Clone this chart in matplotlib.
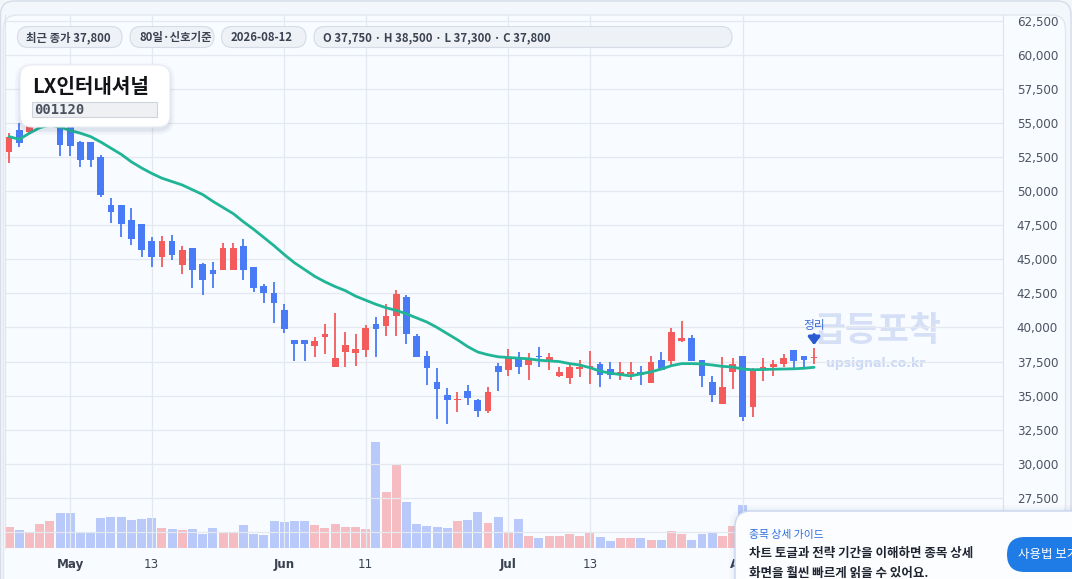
import matplotlib
matplotlib.use('Agg')
import matplotlib.pyplot as plt
from matplotlib.patches import FancyBboxPatch
from matplotlib.ticker import FuncFormatter
import numpy as np
import pandas as pd

KR = ['Noto Sans CJK KR', 'DejaVu Sans']

# ---------------- data ----------------
dates = pd.bdate_range('2026-04-23', '2026-08-12')  # 80 trading days

opens = [52900, 54500, 54350, 54850, 55500, 55600, 54900, 53600, 53600, 52500,
         49000, 49000, 47900, 47600, 46350, 45200, 46350, 44550, 45800, 44650,
         44200, 44250, 44250, 46000, 44450, 43050, 42550, 41300, 39100, 39100,
         38650, 39300, 37100, 38200, 38150, 38350, 40250, 40100, 40850, 42250,
         39400, 37900, 36000, 35050, 34650, 35350, 34700, 33900, 37200, 36900,
         37750, 37250, 37900, 37600, 36450, 36300, 36950, 37050, 37300, 36950,
         36600, 36600, 36700, 35950, 37600, 37550, 39000, 39250, 37600, 36000,
         34400, 36700, 37900, 34200, 36900, 37100, 37300, 38350, 37900, 37750]
highs = [54250, 55000, 55200, 55800, 56600, 56000, 55200, 53650, 53600, 52650,
         49500, 49000, 48750, 47600, 46650, 46700, 46800, 46000, 45850, 44750,
         44800, 46200, 46200, 46500, 44450, 43200, 43350, 41700, 39100, 39100,
         39300, 40250, 41050, 39650, 39500, 40200, 40750, 41700, 42750, 42400,
         39500, 38300, 37050, 35550, 35250, 35800, 34750, 35650, 37400, 38400,
         38200, 38150, 38550, 38150, 37100, 37300, 37600, 38300, 37500, 37450,
         37450, 37450, 37150, 37900, 38200, 39950, 40450, 39450, 37600, 36450,
         37800, 37750, 37900, 37050, 37750, 37650, 38050, 38350, 37900, 38500]
lows = [52050, 53250, 54200, 54600, 55200, 52550, 52550, 51800, 51800, 49600,
        47700, 46600, 46050, 45200, 44400, 44400, 44950, 43900, 42900, 42400,
        42900, 44250, 44250, 43450, 42600, 41800, 40300, 39600, 37550, 37550,
        37800, 38050, 37100, 37100, 37200, 37800, 37850, 39400, 39400, 38800,
        37850, 35800, 33300, 32950, 33800, 34300, 33450, 33700, 35350, 36450,
        36600, 36150, 37100, 36900, 36400, 35850, 36400, 35850, 35650, 36200,
        36150, 36150, 35800, 35950, 36900, 37250, 38950, 37550, 35650, 34550,
        34400, 35500, 33150, 33450, 36050, 36450, 37100, 36900, 37100, 37300]
closes = [53950, 53550, 54850, 55500, 56200, 53350, 53300, 52250, 52250, 49700,
          48500, 47600, 46500, 45650, 45200, 46350, 45350, 45700, 44250, 43450,
          43900, 45850, 45850, 44250, 42900, 42550, 41800, 39900, 38800, 38800,
          39000, 39500, 37750, 38700, 38400, 39950, 39900, 40850, 42450, 39500,
          37850, 37050, 35500, 34700, 34750, 34850, 33900, 35250, 36700, 37800,
          37100, 37750, 37800, 37800, 36700, 37100, 37100, 37150, 36500, 36500,
          36750, 36750, 36500, 37450, 36900, 39650, 39250, 37550, 36450, 35050,
          35650, 37300, 33450, 36950, 37100, 37300, 37750, 37550, 37600, 37800]
ma_line = [54000, 53800, 54250, 54650, 54850, 54700, 54450, 54250, 54000, 53600,
           53150, 52700, 52150, 51700, 51300, 50950, 50700, 50450, 50100, 49750,
           49250, 48800, 48350, 47750, 47200, 46600, 46000, 45350, 44750, 44250,
           43750, 43350, 43000, 42700, 42300, 42000, 41700, 41450, 41250, 41000,
           40700, 40400, 40000, 39550, 39100, 38600, 38200, 38000, 37850, 37800,
           37750, 37700, 37600, 37550, 37500, 37350, 37250, 37050, 36800, 36650,
           36550, 36450, 36600, 36750, 36950, 37200, 37350, 37350, 37330, 37250,
           37150, 37100, 36950, 36900, 36920, 36940, 36955, 36970, 37010, 37080]
volume = [210, 180, 150, 240, 270, 350, 350, 160, 160, 300,
          310, 310, 280, 290, 300, 200, 190, 180, 190, 140,
          200, 160, 160, 230, 140, 130, 270, 260, 270, 270,
          230, 200, 240, 210, 210, 190, 1060, 560, 840, 460,
          240, 220, 210, 200, 270, 280, 360, 250, 310, 160,
          290, 120, 100, 120, 120, 140, 120, 160, 110, 70,
          100, 100, 100, 80, 80, 170, 140, 80, 140, 150,
          120, 220, 430, 150, 120, 110, 130, 120, 110, 130]  # thousand shares

price_ticks = list(range(25000, 65001, 2500))
tick_dates = ['2026-05-01', '2026-05-13', '2026-06-01', '2026-06-11',
              '2026-07-01', '2026-07-13', '2026-08-03']
tick_labels = ['May', '13', 'Jun', '11', 'Jul', '13', 'Aug']

stock_name = 'LX인터내셔널'
stock_code = '001120'
period_label = '80일·신호기준'
signal_label = '정리'

# ---------------- figure ----------------
W, H = 1072, 579
fig = plt.figure(figsize=(W / 100, H / 100), dpi=100)
fig.patch.set_facecolor('#f2f5f9')

def rect(l, t, r, b):
    return [l / W, 1 - b / H, (r - l) / W, (b - t) / H]

UP = '#f45b5b'
DN = '#4a7bf6'

# background layer
bg = fig.add_axes([0, 0, 1, 1])
bg.set_xlim(0, W); bg.set_ylim(H, 0); bg.axis('off'); bg.set_zorder(-5)
bg.add_patch(FancyBboxPatch((0.5, 1), W - 1.5, H + 30,
             boxstyle='round,pad=0,rounding_size=14', fc='#f3f6fa', ec='#d6dde8', lw=1))
bg.add_patch(FancyBboxPatch((3.5, 15), 1062, H + 30,
             boxstyle='round,pad=0,rounding_size=14', fc='#f8fbff', ec='#e2e7ef', lw=1))
bg.text(878, 331, '급등포착', fontsize=25, fontweight='bold', color='#d5e0f7',
        ha='center', va='center', family=KR)
bg.text(876, 363, 'upsignal.co.kr', fontsize=9, fontweight='bold', color='#cbd9f5',
        ha='center', va='center', family=['DejaVu Sans'])

n = len(dates)
x = np.arange(n)
o = np.array(opens); h = np.array(highs); l = np.array(lows); c = np.array(closes)
up = c >= o
cols = np.where(up, UP, DN)

# volume axes
axv = fig.add_axes(rect(4.8, 15, 1003, 548))
axv.set_zorder(0); axv.patch.set_alpha(0)
vcols = [(0.94, 0.31, 0.33, 0.36) if u else (0.29, 0.46, 0.95, 0.36) for u in up]
axv.bar(x, volume, width=0.88, color=vcols, linewidth=0)
for s in axv.spines.values():
    s.set_visible(False)
axv.set_xticks([]); axv.set_yticks([])
axv.set_ylim(0, 5330)
axv.set_xlim(-0.42, 97.54)

# price axes
ax = fig.add_axes(rect(4.8, 15, 1003, 548))
ax.set_zorder(1); ax.patch.set_alpha(0)
ax.set_axisbelow(True)
ax.grid(True, color='#e4e8ef', lw=0.9)
ax.vlines(x, l, h, colors=cols, lw=1.3, zorder=3)
body_b = np.minimum(o, c)
body_h = np.maximum(np.abs(c - o), 70)
ax.bar(x, body_h, bottom=body_b, width=0.66, color=cols, linewidth=0, zorder=4)
ax.plot(x, ma_line, color='#1fb596', lw=2.0, zorder=5, solid_capstyle='round')

ax.yaxis.tick_right()
ax.set_yticks(price_ticks)
ax.yaxis.set_major_formatter(FuncFormatter(lambda v, p: f'{int(v):,}'))
ax.tick_params(axis='y', length=0, pad=10, labelsize=8.6, labelcolor='#4b5261')
tick_idx = [dates.get_loc(pd.Timestamp(d)) for d in tick_dates]
ax.set_xticks(tick_idx)
ax.set_xticklabels(tick_labels)
for t in ax.get_xticklabels():
    if not t.get_text().isdigit():
        t.set_fontweight('bold')
ax.tick_params(axis='x', length=0, pad=7, labelsize=8.6, labelcolor='#3b4250')
ax.set_xlim(-0.42, 97.54)
ax.set_ylim(23828, 62918)
for side in ['top', 'bottom']:
    ax.spines[side].set_visible(False)
ax.spines['left'].set_color('#dfe4ec')
ax.spines['right'].set_color('#dfe4ec')

# signal annotation on last candle
ax.annotate('', xy=(x[-1], h[-1]), xytext=(0, 9.5), textcoords='offset points',
            arrowprops=dict(arrowstyle='-|>,head_width=0.34,head_length=0.45',
                            color='#2a5bd0', lw=2.4, shrinkA=0, shrinkB=2), zorder=6)
ax.annotate(signal_label, xy=(x[-1], h[-1]), xytext=(0, 11.5), textcoords='offset points',
            ha='center', va='bottom', fontsize=8.5, color='#3e6fd6', family=KR, zorder=6)

# overlay layer
ov = fig.add_axes([0, 0, 1, 1])
ov.set_xlim(0, W); ov.set_ylim(H, 0); ov.axis('off'); ov.set_zorder(10)
ov.patch.set_alpha(0)

# header chips
chips = [
    (17.5, 122, f'최근 종가 {closes[-1]:,}'),
    (130, 214, period_label),
    (221.5, 306, dates[-1].strftime('%Y-%m-%d')),
    (314, 732, f'O {opens[-1]:,} · H {highs[-1]:,} · L {lows[-1]:,} · C {closes[-1]:,}'),
]
for cl, cr, txt in chips:
    ov.add_patch(FancyBboxPatch((cl, 26.5), cr - cl, 21,
                 boxstyle='round,pad=0,rounding_size=10.5', fc='#eef1f6', ec='#d6dce6', lw=0.8))
    ov.text(cl + 9, 37.5, txt, fontsize=8.2, fontweight='bold', color='#3b4352',
            ha='left', va='center', family=KR)

# title box
for k, a in [(10, 0.018), (7, 0.025), (4, 0.035), (2, 0.04)]:
    ov.add_patch(FancyBboxPatch((20 - k / 2, 65 - k / 2 + 3), 150 + k, 62 + k,
                 boxstyle=f'round,pad=0,rounding_size={12 + k / 2}', fc=(0.15, 0.25, 0.45, a), ec='none'))
ov.add_patch(FancyBboxPatch((20, 65), 150, 62, boxstyle='round,pad=0,rounding_size=12',
             fc='#ffffff', ec='#e8ecf2', lw=0.8))
ov.text(32, 86.5, stock_name, fontsize=14.5, fontweight='black', color='#121418',
        ha='left', va='center', family=KR)
ov.add_patch(FancyBboxPatch((32, 102), 125, 15, boxstyle='square,pad=0',
             fc='#eef0f4', ec='#cfd4dc', lw=0.8))
ov.text(34, 109.8, stock_code, fontsize=10, fontweight='bold', color='#4a5260',
        ha='left', va='center', family=['DejaVu Sans Mono'])

# guide popup
for k, a in [(12, 0.015), (8, 0.02), (4, 0.03)]:
    ov.add_patch(FancyBboxPatch((735 - k / 2, 511 - k / 2), 420 + k, 100 + k,
                 boxstyle=f'round,pad=0,rounding_size={16 + k / 2}', fc=(0.2, 0.35, 0.7, a), ec='none'))
ov.add_patch(FancyBboxPatch((735, 511), 420, 100, boxstyle='round,pad=0,rounding_size=16',
             fc='#fcfdff', ec='#c8d6ef', lw=1))
ov.text(749, 535, '종목 상세 가이드', fontsize=7.8, color='#2f6fe0', ha='left', va='center', family=KR)
ov.text(749, 554, '차트 토글과 전략 기간을 이해하면 종목 상세', fontsize=9, fontweight='bold',
        color='#1e2530', ha='left', va='center', family=KR)
ov.text(749, 573, '화면을 훨씬 빠르게 읽을 수 있어요.', fontsize=9, fontweight='bold',
        color='#1e2530', ha='left', va='center', family=KR)
ov.add_patch(FancyBboxPatch((1007, 537), 120, 35, boxstyle='round,pad=0,rounding_size=17.5',
             fc='#1f7be6', ec='none'))
ov.text(1018, 554.5, '사용법 보기', fontsize=9, color='white', ha='left', va='center', family=KR)

fig.savefig('out.png', dpi=100, facecolor=fig.get_facecolor())
